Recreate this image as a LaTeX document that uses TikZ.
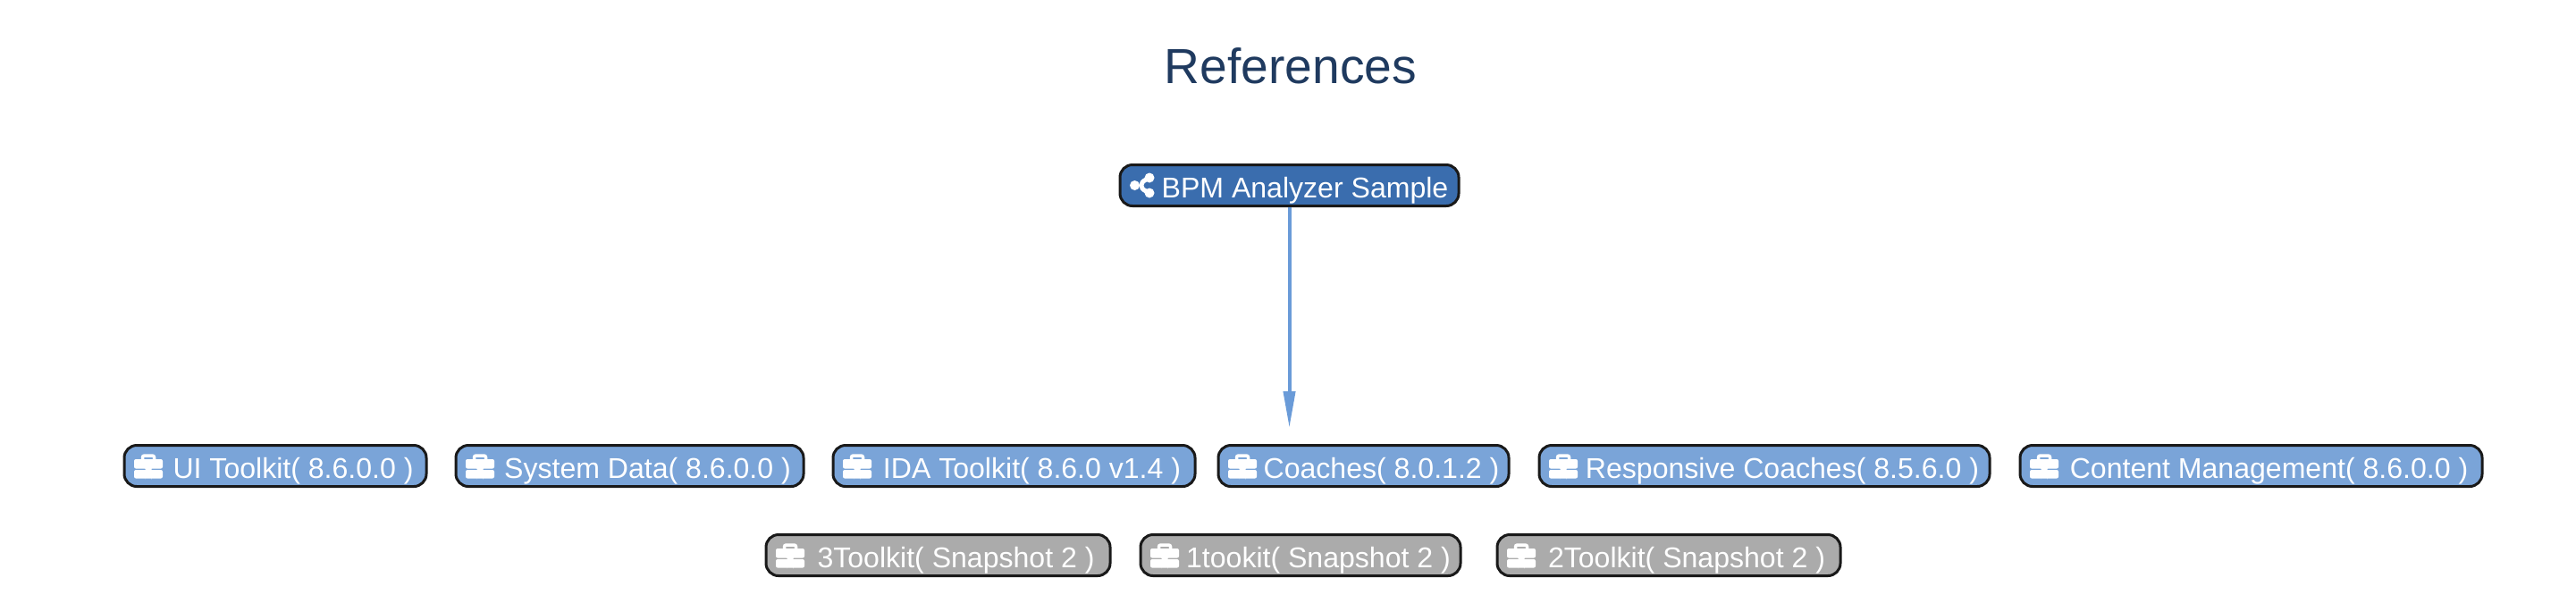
\documentclass[tikz,border=0pt]{standalone}
\usepackage{fontspec}
\setmainfont{Liberation Sans}
\usetikzlibrary{arrows.meta, positioning, calc}
\definecolor{headblue}{RGB}{31,58,95}
\definecolor{rootblue}{RGB}{58,109,174}
\definecolor{pkgblue}{RGB}{122,164,216}
\definecolor{snapgrey}{RGB}{171,171,171}
\definecolor{flowblue}{RGB}{106,155,216}
\tikzset{
  box/.style={draw=black!90, line width=0.03cm, rounded corners=0.14cm, text=white, inner sep=0pt,
    minimum height=0.46cm, text height=0.3cm, text depth=0.02cm, font=\fontsize{9.12}{11}\selectfont},
  caseicon/.pic={
    \fill[white, rounded corners=0.02cm] (0.11,-0.03) rectangle (0.43,0.075);
    \fill[white, rounded corners=0.02cm] (0.11,-0.045) rectangle (0.43,-0.14);
    \fill[white] (0.235,-0.08) rectangle (0.305,-0.01);
    \draw[white, line width=0.035cm, rounded corners=0.02cm] (0.205,0.07) -- (0.205,0.115) -- (0.335,0.115) -- (0.335,0.07);
  },
  shareicon/.pic={
    \draw[white, line width=0.05cm] (0.33,0.085) -- (0.165,0) -- (0.33,-0.085);
    \fill[white] (0.33,0.085) circle (0.055);
    \fill[white] (0.165,0) circle (0.055);
    \fill[white] (0.33,-0.085) circle (0.055);
  },
  pkg/.style={box, fill=pkgblue, path picture={\pic at (path picture bounding box.west) {caseicon};}},
  snap/.style={box, fill=snapgrey, path picture={\pic at (path picture bounding box.west) {caseicon};}},
  root/.style={box, fill=rootblue, path picture={\pic at (path picture bounding box.west) {shareicon};}},
  flow/.style={flowblue, line width=0.04cm, -{Triangle[length=0.41cm,width=0.13cm]}}
}

\begin{document}
\begin{tikzpicture}
  \useasboundingbox (0,0) rectangle (28.82,6.74);

  \node[text=headblue, font=\fontsize{15.7}{18}\selectfont] (title) at (14.44,6.0) {References};

  \node[root, minimum width=3.79cm] (bpm) at (14.425,4.665) {\hspace*{0.35cm}BPM Analyzer Sample};

  \node[pkg, minimum width=3.38cm] (ui) at (3.08,1.525) {\hspace*{0.4cm}UI Toolkit( 8.6.0.0 )};
  \node[pkg, minimum width=3.89cm] (sysdata) at (7.045,1.525) {\hspace*{0.4cm}System Data( 8.6.0.0 )};
  \node[pkg, minimum width=4.05cm] (ida) at (11.345,1.525) {\hspace*{0.4cm}IDA Toolkit( 8.6.0 v1.4 )};
  \node[pkg, minimum width=3.25cm] (coaches) at (15.255,1.525) {\hspace*{0.4cm}Coaches( 8.0.1.2 )};
  \node[pkg, minimum width=5.04cm] (respcoaches) at (19.74,1.525) {\hspace*{0.4cm}Responsive Coaches( 8.5.6.0 )};
  \node[pkg, minimum width=5.17cm] (content) at (25.185,1.525) {\hspace*{0.4cm}Content Management( 8.6.0.0 )};

  \node[snap, minimum width=3.85cm] (tk3) at (10.495,0.525) {\hspace*{0.4cm}3Toolkit( Snapshot 2 )};
  \node[snap, minimum width=3.58cm] (tk1) at (14.55,0.525) {\hspace*{0.4cm}1tookit( Snapshot 2 )};
  \node[snap, minimum width=3.84cm] (tk2) at (18.67,0.525) {\hspace*{0.4cm}2Toolkit( Snapshot 2 )};

  \coordinate (tip) at (14.425,1.95);
  \draw[flow] (bpm.south) -- (tip);
\end{tikzpicture}
\end{document}
